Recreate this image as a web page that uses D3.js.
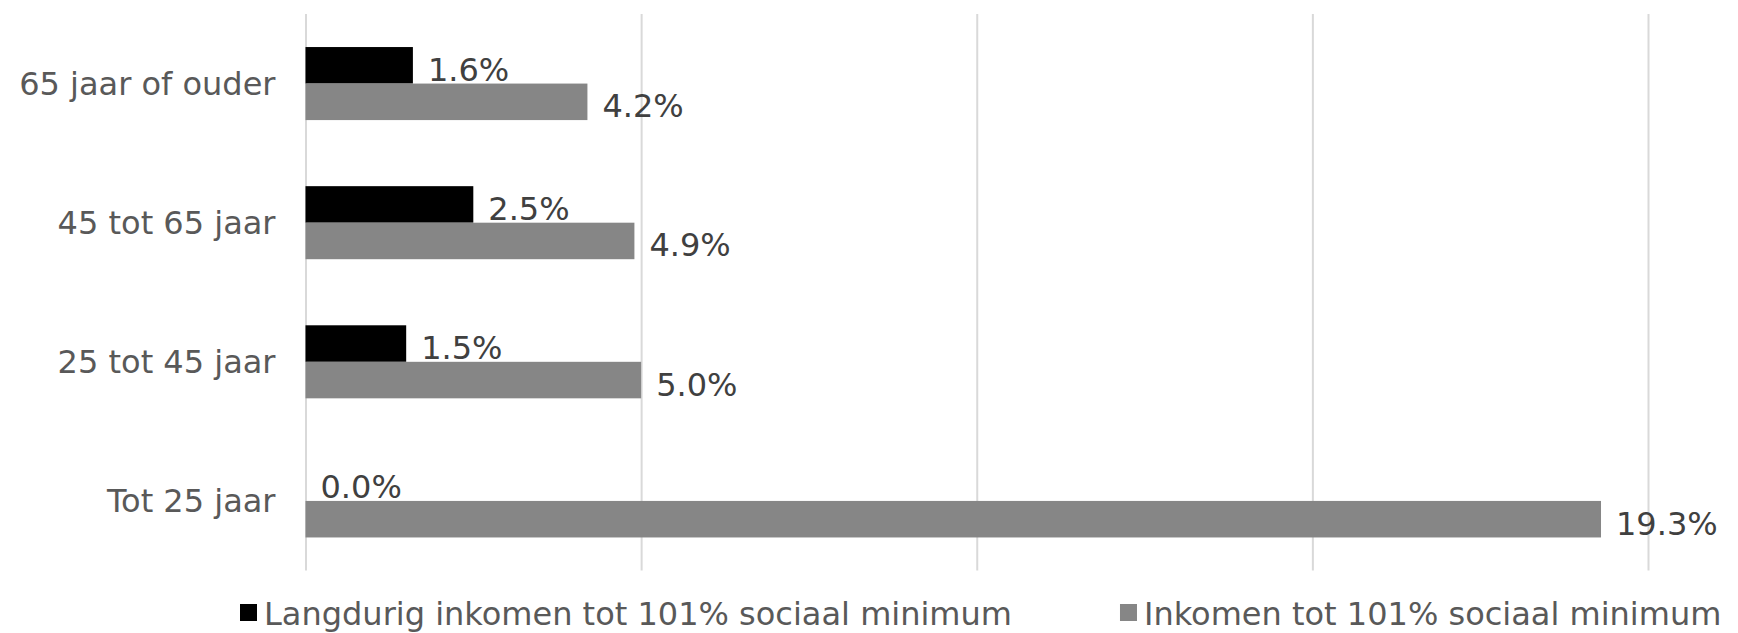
<!DOCTYPE html>
<html>
<head>
<meta charset="utf-8">
<script src="https://cdn.jsdelivr.net/npm/d3@7"></script>
<style>
  html, body { margin: 0; padding: 0; background: #fff; }
  .canvas { width: 1738px; height: 633px; overflow: hidden; }
  text { font-family: "DejaVu Sans", Verdana, sans-serif; }
</style>
</head>
<body>
<div class="canvas"></div>
<script>
const categories = ["65 jaar of ouder", "45 tot 65 jaar", "25 tot 45 jaar", "Tot 25 jaar"];
const seriesNames = ["Langdurig inkomen tot 101% sociaal minimum", "Inkomen tot 101% sociaal minimum"];
const langdurig = [1.6, 2.5, 1.5, 0.0];
const inkomen = [4.2, 4.9, 5.0, 19.3];
const xTicks = [0, 5, 10, 15, 20];
const colors = ["#000000", "#868686"];

function setup() {
  const width = 1738;
  const height = 633;
  const margin = { top: 14, right: 90, bottom: 62.5, left: 305.5 };
  const innerW = 1648 - margin.left;
  const innerH = height - margin.top - margin.bottom;

  const rows = categories.map((c, i) => ({ cat: c, values: [langdurig[i], inkomen[i]] }));

  const x = d3.scaleLinear().domain([0, 20]).range([0, innerW]);
  const y = d3.scaleBand().domain(categories).range([0, innerH])
    .paddingInner(0.475).paddingOuter(0.2375);
  const ySub = d3.scaleBand().domain([0, 1]).range([0, y.bandwidth()]);

  const svg = d3.select(".canvas").append("svg")
    .attr("width", width)
    .attr("height", height);

  const chart = svg.append("g")
    .attr("transform", `translate(${margin.left}, ${margin.top})`);

  // gridlines
  const grid = chart.append("g")
    .call(d3.axisBottom(x).tickValues(xTicks).tickSize(innerH).tickFormat(""));
  grid.select(".domain").remove();
  grid.selectAll(".tick line").attr("stroke", "#d9d9d9").attr("stroke-width", 2);

  // category axis
  const yAxis = chart.append("g")
    .call(d3.axisLeft(y).tickSize(0).tickPadding(30));
  yAxis.select(".domain").remove();
  yAxis.selectAll("text")
    .attr("fill", "#595959")
    .style("font-size", "32px")
    .attr("dy", "0.35em");

  const groups = chart.selectAll(".row")
    .data(rows)
    .enter()
    .append("g")
    .attr("class", "row")
    .attr("transform", (d) => `translate(0, ${y(d.cat)})`);

  groups.selectAll("rect")
    .data((d) => d.values)
    .enter()
    .append("rect")
    .attr("x", x(0))
    .attr("y", (d, i) => ySub(i))
    .attr("width", (d) => x(d) - x(0))
    .attr("height", ySub.bandwidth())
    .attr("fill", (d, i) => colors[i]);

  groups.selectAll(".label")
    .data((d) => d.values)
    .enter()
    .append("text")
    .attr("class", "label")
    .attr("x", (d) => x(d) + 15)
    .attr("y", (d, i) => ySub(i) + ySub.bandwidth() / 2 + 15.5)
    .attr("fill", "#404040")
    .style("font-size", "32px")
    .text((d) => d3.format(".1f")(d) + "%");

  // legend
  const legend = svg.append("g").attr("transform", "translate(0, 625)");
  const items = legend.selectAll("g")
    .data(seriesNames)
    .enter()
    .append("g");
  items.append("rect")
    .attr("y", -21)
    .attr("width", 17)
    .attr("height", 17)
    .attr("fill", (d, i) => colors[i]);
  items.append("text")
    .attr("x", 24)
    .attr("fill", "#595959")
    .style("font-size", "32px")
    .text((d) => d);

  const gap = 108;
  const widths = items.nodes().map((n) => 24 + n.querySelector("text").getComputedTextLength());
  let pos = 240;
  items.each(function (d, i) {
    d3.select(this).attr("transform", `translate(${pos}, 0)`);
    pos += widths[i] + gap;
  });
}

setup();
</script>
</body>
</html>
